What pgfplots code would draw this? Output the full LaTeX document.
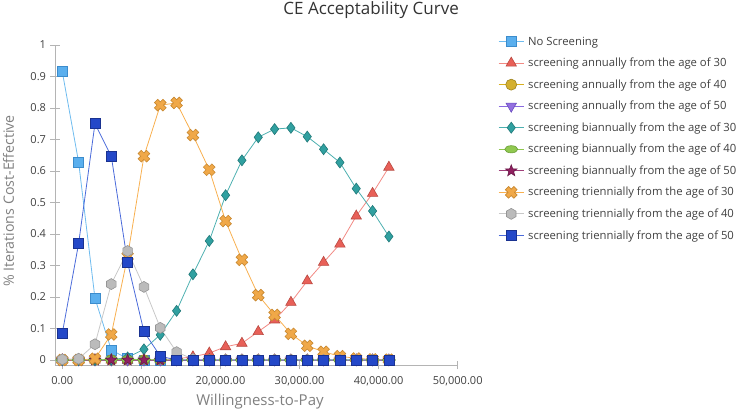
\documentclass[border=0pt]{standalone}
\usepackage{fontspec}
\setmainfont{Open Sans}
\usepackage{pgfplots}
\usepackage{pgfplotstable}
\pgfplotsset{compat=1.18}
\usetikzlibrary{plotmarks}

\definecolor{axisgray}{HTML}{B4B4B4}
\definecolor{ticktext}{HTML}{404040}
\definecolor{labelgray}{HTML}{808080}
\definecolor{titlegray}{HTML}{333333}
% series colours
\definecolor{nsline}{HTML}{6FBCEF}\definecolor{nsfill}{HTML}{5AAFEE}\definecolor{nsedge}{HTML}{3C8CCC}
\definecolor{aaline}{HTML}{F28A84}\definecolor{aafill}{HTML}{E86058}\definecolor{aaedge}{HTML}{B84840}
\definecolor{abline}{HTML}{D8B020}\definecolor{abfill}{HTML}{D4B030}\definecolor{abedge}{HTML}{9E8420}
\definecolor{acline}{HTML}{8A6AE0}\definecolor{acfill}{HTML}{9370E0}\definecolor{acedge}{HTML}{6A4CC0}
\definecolor{baline}{HTML}{4DB0B0}\definecolor{bafill}{HTML}{30A0A0}\definecolor{baedge}{HTML}{207878}
\definecolor{bbline}{HTML}{90C850}\definecolor{bbfill}{HTML}{90C850}\definecolor{bbedge}{HTML}{6A9E38}
\definecolor{bcline}{HTML}{A0407A}\definecolor{bcfill}{HTML}{902060}\definecolor{bcedge}{HTML}{6A1848}
\definecolor{taline}{HTML}{F8B050}\definecolor{tafill}{HTML}{F0A848}\definecolor{taedge}{HTML}{C88830}
\definecolor{tbline}{HTML}{C8C8C8}\definecolor{tbfill}{HTML}{BBBBBB}\definecolor{tbedge}{HTML}{959595}
\definecolor{tcline}{HTML}{4A6ADA}\definecolor{tcfill}{HTML}{2448C8}\definecolor{tcedge}{HTML}{1A3290}

\pgfdeclareplotmark{hexagon*}{%
  \pgfpathmoveto{\pgfpointpolar{90}{\pgfplotmarksize}}%
  \pgfpathlineto{\pgfpointpolar{150}{\pgfplotmarksize}}%
  \pgfpathlineto{\pgfpointpolar{210}{\pgfplotmarksize}}%
  \pgfpathlineto{\pgfpointpolar{270}{\pgfplotmarksize}}%
  \pgfpathlineto{\pgfpointpolar{330}{\pgfplotmarksize}}%
  \pgfpathlineto{\pgfpointpolar{30}{\pgfplotmarksize}}%
  \pgfpathclose\pgfusepathqfillstroke}
\pgfdeclareplotmark{ellipse*}{%
  \pgfpathellipse{\pgfpointorigin}{\pgfpoint{1.3\pgfplotmarksize}{0pt}}{\pgfpoint{0pt}{0.72\pgfplotmarksize}}%
  \pgfusepathqfillstroke}
\pgfdeclareplotmark{fstar}{%
  \pgfpathmoveto{\pgfpointpolar{90}{\pgfplotmarksize}}%
  \pgfpathlineto{\pgfpointpolar{126}{0.42\pgfplotmarksize}}%
  \pgfpathlineto{\pgfpointpolar{162}{\pgfplotmarksize}}%
  \pgfpathlineto{\pgfpointpolar{198}{0.42\pgfplotmarksize}}%
  \pgfpathlineto{\pgfpointpolar{234}{\pgfplotmarksize}}%
  \pgfpathlineto{\pgfpointpolar{270}{0.42\pgfplotmarksize}}%
  \pgfpathlineto{\pgfpointpolar{306}{\pgfplotmarksize}}%
  \pgfpathlineto{\pgfpointpolar{342}{0.42\pgfplotmarksize}}%
  \pgfpathlineto{\pgfpointpolar{18}{\pgfplotmarksize}}%
  \pgfpathlineto{\pgfpointpolar{54}{0.42\pgfplotmarksize}}%
  \pgfpathclose\pgfusepathqfillstroke}
\pgfdeclareplotmark{fcross}{%
  \pgfpathmoveto{\pgfpoint{-0.438\pgfplotmarksize}{0.976\pgfplotmarksize}}%
  \pgfpathlineto{\pgfpoint{0pt}{0.537\pgfplotmarksize}}%
  \pgfpathlineto{\pgfpoint{0.438\pgfplotmarksize}{0.976\pgfplotmarksize}}%
  \pgfpathlineto{\pgfpoint{0.976\pgfplotmarksize}{0.438\pgfplotmarksize}}%
  \pgfpathlineto{\pgfpoint{0.537\pgfplotmarksize}{0pt}}%
  \pgfpathlineto{\pgfpoint{0.976\pgfplotmarksize}{-0.438\pgfplotmarksize}}%
  \pgfpathlineto{\pgfpoint{0.438\pgfplotmarksize}{-0.976\pgfplotmarksize}}%
  \pgfpathlineto{\pgfpoint{0pt}{-0.537\pgfplotmarksize}}%
  \pgfpathlineto{\pgfpoint{-0.438\pgfplotmarksize}{-0.976\pgfplotmarksize}}%
  \pgfpathlineto{\pgfpoint{-0.976\pgfplotmarksize}{-0.438\pgfplotmarksize}}%
  \pgfpathlineto{\pgfpoint{-0.537\pgfplotmarksize}{0pt}}%
  \pgfpathlineto{\pgfpoint{-0.976\pgfplotmarksize}{0.438\pgfplotmarksize}}%
  \pgfpathclose\pgfusepathqfillstroke}

\pgfplotstableread{
x      NS    A30   A40 A50 B30   B40   B50 T30   T40   T50
0      0.915 0     0   0   0     0     0   0     0.002 0.085
2065   0.628 0     0   0   0     0     0   0     0.004 0.370
4130   0.196 0     0   0   0     0     0   0.004 0.050 0.750
6195   0.032 0     0   0   0.001 0.002 0   0.081 0.241 0.647
8260   0.004 0     0   0   0.008 0.002 0   0.329 0.346 0.309
10325  0     0     0   0   0.034 0.001 0   0.647 0.232 0.090
12390  0     0.001 0   0   0.080 0     0   0.809 0.102 0.012
14455  0     0.004 0   0   0.156 0     0   0.816 0.025 0
16520  0     0.010 0   0   0.272 0     0   0.714 0.003 0
18585  0     0.022 0   0   0.378 0     0   0.604 0     0
20650  0     0.042 0   0   0.523 0     0   0.441 0     0
22715  0     0.053 0   0   0.634 0     0   0.318 0     0
24780  0     0.090 0   0   0.707 0     0   0.206 0     0
26845  0     0.127 0   0   0.733 0     0   0.143 0     0
28910  0     0.183 0   0   0.737 0     0   0.083 0     0
30975  0     0.251 0   0   0.709 0     0   0.045 0     0
33040  0     0.310 0   0   0.669 0     0   0.026 0     0
35105  0     0.368 0   0   0.627 0     0   0.012 0     0
37170  0     0.457 0   0   0.544 0     0   0.005 0     0
39235  0     0.529 0   0   0.473 0     0   0.002 0     0
41300  0     0.612 0   0   0.392 0     0   0.001 0     0
}\data

\begin{document}
\begin{tikzpicture}
\begin{axis}[
  at={(55bp,45bp)}, anchor=south west,
  scale only axis, width=402.7bp, height=320bp,
  xmin=-923, xmax=50000, ymin=-0.0159, ymax=1,
  axis lines=left,
  axis line style={-, draw=axisgray, line width=0.8bp},
  tick style={draw=axisgray, line width=0.8bp},
  tick align=center, major tick length=9bp,
  scaled x ticks=false, scaled y ticks=false,
  /pgf/number format/assume math mode=true,
  xtick={0,10000,20000,30000,40000,50000},
  xticklabels={0.00,{10,000.00},{20,000.00},{30,000.00},{40,000.00},{50,000.00}},
  ytick={0,0.1,0.2,0.3,0.4,0.5,0.6,0.7,0.8,0.9,1},
  yticklabels={0,0.1,0.2,0.3,0.4,0.5,0.6,0.7,0.8,0.9,1},
  ticklabel style={font=\fontsize{11bp}{13bp}\selectfont, text=ticktext},
  xticklabel style={yshift=-3.5bp},
  yticklabel style={xshift=-1bp},
  title={CE Acceptability Curve},
  every axis title shift=0pt,
  title style={at={(axis description cs:0.785,1.094)}, anchor=base, font=\fontsize{17bp}{20bp}\selectfont, text=titlegray},
  xlabel={Willingness-to-Pay},
  xlabel style={at={(axis description cs:0.509,-0.128)}, anchor=base, font=\fontsize{15bp}{18bp}\selectfont, text=labelgray},
  ylabel={\% Iterations Cost-Effective},
  ylabel style={at={(axis description cs:-0.102,0.5125)}, anchor=base, rotate=0, font=\fontsize{14.2bp}{17bp}\selectfont, text=labelgray},
  clip=false,
  legend cell align=left,
  legend style={at={(1.093,1.037)}, anchor=north west, draw=none, fill=none,
    font=\fontsize{11.3bp}{13bp}\selectfont, text=ticktext, row sep=8.4bp,
    nodes={inner sep=1.5bp},
    /tikz/every odd column/.append style={column sep=2.5bp}},
  legend image code/.code={\draw[mark repeat=2,mark phase=2,#1] plot coordinates {(0bp,0bp) (12.5bp,0bp) (25bp,0bp)};},
  every axis plot/.append style={line width=0.8bp},
]
\addplot[color=nsline, mark=square*, mark size=5bp, mark options={fill=nsfill, draw=nsedge, line width=0.6bp}] table[x=x,y=NS]{\data};
\addlegendentry{No Screening}
\addplot[color=aaline, mark=triangle*, mark size=6bp, mark options={fill=aafill, draw=aaedge, line width=0.6bp}] table[x=x,y=A30]{\data};
\addlegendentry{screening annually from the age of 30}
\addplot[color=abline, mark=*, mark size=5.5bp, mark options={fill=abfill, draw=abedge, line width=0.6bp}] table[x=x,y=A40]{\data};
\addlegendentry{screening annually from the age of 40}
\addplot[color=acline, mark=triangle*, mark size=6bp, mark options={rotate=180, fill=acfill, draw=acedge, line width=0.6bp}] table[x=x,y=A50]{\data};
\addlegendentry{screening annually from the age of 50}
\addplot[color=baline, mark=diamond*, mark size=5.5bp, mark options={fill=bafill, draw=baedge, line width=0.6bp}] table[x=x,y=B30]{\data};
\addlegendentry{screening biannually from the age of 30}
\addplot[color=bbline, mark=ellipse*, mark size=5bp, mark options={fill=bbfill, draw=bbedge, line width=0.6bp}] table[x=x,y=B40]{\data};
\addlegendentry{screening biannually from the age of 40}
\addplot[color=bcline, mark=fstar, mark size=6bp, mark options={fill=bcfill, draw=bcedge, line width=0.6bp}] table[x=x,y=B50]{\data};
\addlegendentry{screening biannually from the age of 50}
\addplot[color=taline, mark=fcross, mark size=6bp, mark options={fill=tafill, draw=taedge, line width=0.6bp}] table[x=x,y=T30]{\data};
\addlegendentry{screening triennially from the age of 30}
\addplot[color=tbline, mark=hexagon*, mark size=5.5bp, mark options={fill=tbfill, draw=tbedge, line width=0.6bp}] table[x=x,y=T40]{\data};
\addlegendentry{screening triennially from the age of 40}
\addplot[color=tcline, mark=square*, mark size=5bp, mark options={fill=tcfill, draw=tcedge, line width=0.6bp}] table[x=x,y=T50]{\data};
\addlegendentry{screening triennially from the age of 50}
\end{axis}
\pgfresetboundingbox
\path[use as bounding box] (0,0) rectangle (737bp,410bp);
\end{tikzpicture}
\end{document}
